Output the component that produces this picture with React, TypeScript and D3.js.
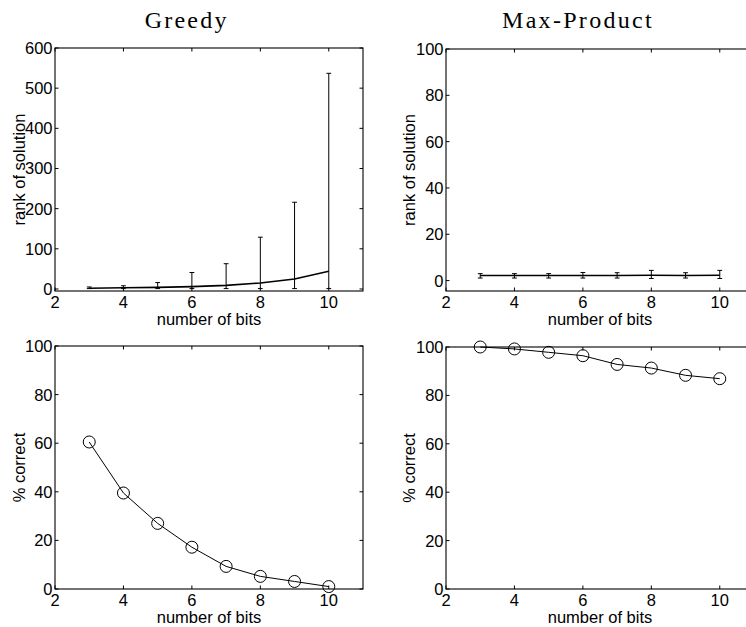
import React from "react";
import * as d3 from "d3";

// ---- data ----
const bits = [3, 4, 5, 6, 7, 8, 9, 10];
const greedyRankMean = [2, 3, 4, 6, 9, 15, 25, 44];
const greedyRankLow = [1, 1, 1, 1, 1, 1, 1, 1];
const greedyRankHigh = [5, 8, 16, 41, 63, 129, 216, 537];
const maxProdRankMean = [2.2, 2.2, 2.2, 2.2, 2.2, 2.3, 2.2, 2.3];
const maxProdRankLow = [1.1, 1.1, 1.1, 1.1, 1.1, 0.9, 1.1, 0.9];
const maxProdRankHigh = [3.0, 3.0, 3.0, 3.5, 3.4, 4.4, 3.4, 4.4];
const greedyCorrect = [60.5, 39.5, 27, 17.2, 9.3, 5.2, 3.1, 1.0];
const maxProdCorrect = [100, 99.2, 97.8, 96.4, 92.8, 91.3, 88.3, 86.9];

const xTicks = [2, 4, 6, 8, 10];
const greedyRankTicks = [0, 100, 200, 300, 400, 500, 600];
const pctTicks = [0, 20, 40, 60, 80, 100];

const titles = ["Greedy", "Max-Product"];
const xLabel = "number of bits";
const rankLabel = "rank of solution";
const pctLabel = "% correct";

const SANS = "'Liberation Sans', Arial, Helvetica, sans-serif";
const SERIF = "'Liberation Serif', 'Times New Roman', serif";

type Frame = { left: number; top: number; width: number; height: number };

function Panel({
  frame,
  yDomain,
  yTicks,
  ylabel,
  ylabelX,
  children,
}: {
  frame: Frame;
  yDomain: [number, number];
  yTicks: number[];
  ylabel: string;
  ylabelX: number;
  children: (x: d3.ScaleLinear<number, number>, y: d3.ScaleLinear<number, number>) => React.ReactNode;
}) {
  const { left, top, width, height } = frame;
  const x = d3.scaleLinear().domain([2, 11]).range([left, left + width]);
  const y = d3.scaleLinear().domain(yDomain).range([top + height, top]);
  const bottom = top + height;
  const right = left + width;
  const tl = 3.5;
  return (
    <g>
      {children(x, y)}
      <rect x={left} y={top} width={width} height={height} fill="none" stroke="#000" strokeWidth={1.1} />
      {xTicks.map((t) => (
        <g key={"xt" + t}>
          <line x1={x(t)} x2={x(t)} y1={bottom} y2={bottom - tl} stroke="#000" strokeWidth={1} />
          <line x1={x(t)} x2={x(t)} y1={top} y2={top + tl} stroke="#000" strokeWidth={1} />
          <text x={x(t)} y={bottom + 17} textAnchor="middle" fontFamily={SANS} fontSize={16.5} fill="#000">
            {t}
          </text>
        </g>
      ))}
      {yTicks.map((t) => (
        <g key={"yt" + t}>
          <line x1={left} x2={left + tl} y1={y(t)} y2={y(t)} stroke="#000" strokeWidth={1} />
          <line x1={right} x2={right - tl} y1={y(t)} y2={y(t)} stroke="#000" strokeWidth={1} />
          <text x={left - 2.5} y={y(t)} dy="0.36em" textAnchor="end" fontFamily={SANS} fontSize={16.5} fill="#000">
            {t}
          </text>
        </g>
      ))}
      <text x={(left + right) / 2} y={bottom + 34} textAnchor="middle" fontFamily={SANS} fontSize={16.5} fill="#000">
        {xLabel}
      </text>
      <text
        transform={`translate(${ylabelX},${top + height / 2}) rotate(-90)`}
        textAnchor="middle"
        fontFamily={SANS}
        fontSize={16.5}
        fill="#000"
      >
        {ylabel}
      </text>
    </g>
  );
}

function ErrorSeries({
  x,
  y,
  mean,
  low,
  high,
  lw,
}: {
  x: d3.ScaleLinear<number, number>;
  y: d3.ScaleLinear<number, number>;
  mean: number[];
  low: number[];
  high: number[];
  lw: number;
}) {
  const line = d3
    .line<number>()
    .x((_, i) => x(bits[i]))
    .y((d) => y(d));
  const cap = 0.07;
  return (
    <g>
      {bits.map((b, i) => (
        <g key={b} stroke="#000" strokeWidth={1}>
          <line x1={x(b)} x2={x(b)} y1={y(low[i])} y2={y(high[i])} />
          <line x1={x(b - cap)} x2={x(b + cap)} y1={y(low[i])} y2={y(low[i])} />
          <line x1={x(b - cap)} x2={x(b + cap)} y1={y(high[i])} y2={y(high[i])} />
        </g>
      ))}
      <path d={line(mean) || ""} fill="none" stroke="#000" strokeWidth={lw} />
    </g>
  );
}

function CircleSeries({
  x,
  y,
  values,
}: {
  x: d3.ScaleLinear<number, number>;
  y: d3.ScaleLinear<number, number>;
  values: number[];
}) {
  const line = d3
    .line<number>()
    .x((_, i) => x(bits[i]))
    .y((d) => y(d));
  return (
    <g>
      <path d={line(values) || ""} fill="none" stroke="#000" strokeWidth={1} />
      {values.map((v, i) => (
        <circle key={i} cx={x(bits[i])} cy={y(v)} r={6} fill="none" stroke="#000" strokeWidth={1} />
      ))}
    </g>
  );
}

export default function App() {
  const leftX = 55;
  const rightX = 446;
  const w = 308;
  const topTL: Frame = { left: leftX, top: 48, width: w, height: 243 };
  const topTR: Frame = { left: rightX, top: 49, width: w, height: 242 };
  const botBL: Frame = { left: leftX, top: 346, width: w, height: 243 };
  const botBR: Frame = { left: rightX, top: 347, width: w, height: 242 };
  return (
    <svg
      width={746}
      height={627}
      viewBox="0 0 746 627"
      style={{ position: "absolute", left: 0, top: 0, background: "#fff" }}
    >
      <rect x={0} y={0} width={746} height={627} fill="#fff" />
      <text x={186.7} y={28} textAnchor="middle" fontFamily={SERIF} fontSize={24} letterSpacing={2.2} fill="#000">
        {titles[0]}
      </text>
      <text x={578} y={28} textAnchor="middle" fontFamily={SERIF} fontSize={24} letterSpacing={2.3} fill="#000">
        {titles[1]}
      </text>
      <Panel frame={topTL} yDomain={[-5, 600]} yTicks={greedyRankTicks} ylabel={rankLabel} ylabelX={25}>
        {(x, y) => (
          <ErrorSeries x={x} y={y} mean={greedyRankMean} low={greedyRankLow} high={greedyRankHigh} lw={1.6} />
        )}
      </Panel>
      <Panel frame={topTR} yDomain={[-4.5, 100]} yTicks={pctTicks} ylabel={rankLabel} ylabelX={414.5}>
        {(x, y) => (
          <ErrorSeries x={x} y={y} mean={maxProdRankMean} low={maxProdRankLow} high={maxProdRankHigh} lw={1.3} />
        )}
      </Panel>
      <Panel frame={botBL} yDomain={[0, 100]} yTicks={pctTicks} ylabel={pctLabel} ylabelX={25}>
        {(x, y) => <CircleSeries x={x} y={y} values={greedyCorrect} />}
      </Panel>
      <Panel frame={botBR} yDomain={[0, 100]} yTicks={pctTicks} ylabel={pctLabel} ylabelX={414.5}>
        {(x, y) => <CircleSeries x={x} y={y} values={maxProdCorrect} />}
      </Panel>
    </svg>
  );
}
